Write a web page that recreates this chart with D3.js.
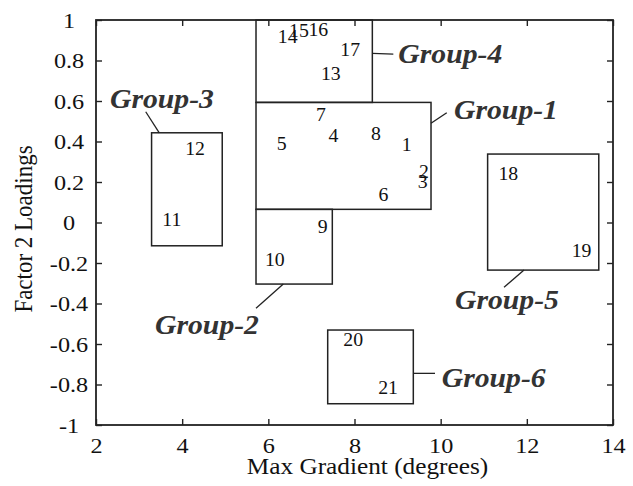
<!DOCTYPE html>
<html>
<head>
<meta charset="utf-8">
<script src="https://cdn.jsdelivr.net/npm/d3@7"></script>
<style>
  html, body { margin: 0; padding: 0; background: #fff; }
  svg { display: block; }
</style>
</head>
<body>
<svg id="chart" width="633" height="486"></svg>
<script>
// ---------- data ----------
const pointLabels = ["1","2","3","4","5","6","7","8","9","10","11","12","13","14","15","16","17","18","19","20","21"];
const pointX = [9.21, 9.61, 9.58, 7.51, 6.31, 8.67, 7.22, 8.50, 7.26, 6.15, 3.76, 4.30, 7.45, 6.45, 6.71, 7.16, 7.90, 11.57, 13.27, 7.97, 8.78];
const pointY = [0.383, 0.250, 0.200, 0.427, 0.388, 0.136, 0.531, 0.440, -0.021, -0.185, 0.012, 0.363, 0.735, 0.917, 0.946, 0.951, 0.853, 0.240, -0.139, -0.580, -0.819];

const groupNames = ["Group-1", "Group-2", "Group-3", "Group-4", "Group-5", "Group-6"];
const groupX1 = [5.714, 5.714, 3.29, 5.714, 11.09, 7.378];
const groupX2 = [9.776, 7.485, 4.93, 8.414, 13.67, 9.365];
const groupY1 = [0.065, -0.304, -0.115, 0.593, -0.235, -0.895];
const groupY2 = [0.593, 0.065, 0.443, 1.000, 0.338, -0.531];
// group label anchor (data units) and leader line ends (data units)
const labelX = [10.31, 3.37, 2.325, 9.017, 10.333, 10.025];
const labelY = [0.510, -0.551, 0.564, 0.786, -0.429, -0.811];
const leadX1 = [10.141, 5.714, 3.154, 8.414, 11.471, 9.365];
const leadY1 = [0.542, -0.424, 0.547, 0.835, -0.320, -0.745];
const leadX2 = [9.776, 6.348, 3.469, 8.901, 11.935, 9.869];
const leadY2 = [0.490, -0.304, 0.443, 0.831, -0.235, -0.745];

const xTicks = [2, 4, 6, 8, 10, 12, 14];
const yTicks = [-1, -0.8, -0.6, -0.4, -0.2, 0, 0.2, 0.4, 0.6, 0.8, 1];
const xTitle = "Max Gradient (degrees)";
const yTitle = "Factor 2 Loadings";

// ---------- layout ----------
const L = 96, R = 613, T = 20, B = 425;
const SX = 1.1; // horizontal glyph stretch
const serif = "'Liberation Serif', 'Times New Roman', serif";

const svg = d3.select("#chart");
const x = d3.scaleLinear().domain([2, 14]).range([L, R]);
const y = d3.scaleLinear().domain([-1, 1]).range([B, T]);

const fmt = d => (d === 0 ? "0" : (Number.isInteger(d) ? String(d) : String(+d.toFixed(1))));

// bottom axis with labels
const gB = svg.append("g").attr("transform", `translate(0,${B})`)
  .call(d3.axisBottom(x).tickValues(xTicks).tickSizeInner(-6).tickSizeOuter(0).tickFormat(d3.format("d")));
gB.selectAll("text")
  .attr("y", 0).attr("dy", null)
  .attr("transform", `translate(0,27.5) scale(${SX},1)`)
  .style("font-family", serif).style("font-size", "22px").attr("fill", "#111");

// top axis (ticks only)
const gT = svg.append("g").attr("transform", `translate(0,${T})`)
  .call(d3.axisTop(x).tickValues(xTicks).tickSizeInner(-6).tickSizeOuter(0).tickFormat(""));

// left axis with labels
const gL = svg.append("g").attr("transform", `translate(${L},0)`)
  .call(d3.axisLeft(y).tickValues(yTicks).tickSizeInner(-6).tickSizeOuter(0).tickFormat(fmt));
gL.selectAll("text")
  .attr("x", 0).attr("dy", "0.34em")
  .attr("text-anchor", "middle")
  .attr("transform", `translate(-27,0) scale(${SX},1)`)
  .style("font-family", serif).style("font-size", "22px").attr("fill", "#111");

// right axis (ticks only)
const gR = svg.append("g").attr("transform", `translate(${R},0)`)
  .call(d3.axisRight(y).tickValues(yTicks).tickSizeInner(-6).tickSizeOuter(0).tickFormat(""));

svg.selectAll(".domain").remove();
svg.selectAll(".tick line").attr("stroke", "#222").attr("stroke-width", 1.4);

// frame
svg.append("rect")
  .attr("x", L).attr("y", T).attr("width", R - L).attr("height", B - T)
  .attr("fill", "none").attr("stroke", "#222").attr("stroke-width", 1.8);

// group boxes
const groups = groupNames.map((n, i) => ({
  name: n, x1: groupX1[i], x2: groupX2[i], y1: groupY1[i], y2: groupY2[i],
  lx: labelX[i], ly: labelY[i], ax: leadX1[i], ay: leadY1[i], bx: leadX2[i], by: leadY2[i]
}));

svg.append("g").selectAll("rect").data(groups).join("rect")
  .attr("x", d => x(d.x1)).attr("y", d => y(d.y2))
  .attr("width", d => x(d.x2) - x(d.x1)).attr("height", d => y(d.y1) - y(d.y2))
  .attr("fill", "none").attr("stroke", "#222").attr("stroke-width", 1.5);

// leader lines
svg.append("g").selectAll("line").data(groups).join("line")
  .attr("x1", d => x(d.ax)).attr("y1", d => y(d.ay))
  .attr("x2", d => x(d.bx)).attr("y2", d => y(d.by))
  .attr("stroke", "#222").attr("stroke-width", 1.3);

// group labels
svg.append("g").selectAll("text").data(groups).join("text")
  .attr("transform", d => `translate(${x(d.lx)},${y(d.ly)}) scale(${SX},1)`)
  .attr("text-anchor", "start")
  .style("font-family", serif).style("font-size", "27px")
  .style("font-weight", "bold").style("font-style", "italic")
  .attr("fill", "#333")
  .text(d => d.name);

// point labels
const pts = pointLabels.map((l, i) => ({ l, x: pointX[i], y: pointY[i] }));
svg.append("g").selectAll("text").data(pts).join("text")
  .attr("transform", d => `translate(${x(d.x)},${y(d.y)}) scale(${SX},1)`)
  .attr("text-anchor", "middle").attr("dy", "0.34em")
  .style("font-family", serif).style("font-size", "18px")
  .attr("fill", "#111")
  .text(d => d.l);

// axis titles
svg.append("text")
  .attr("transform", `translate(367.5,474) scale(${SX},1)`)
  .attr("text-anchor", "middle")
  .style("font-family", serif).style("font-size", "23px").attr("fill", "#111")
  .text(xTitle);

svg.append("text")
  .attr("transform", `translate(32,229) scale(${SX},1) rotate(-90)`)
  .attr("text-anchor", "middle")
  .style("font-family", serif).style("font-size", "23px").attr("fill", "#111")
  .text(yTitle);
</script>
</body>
</html>
